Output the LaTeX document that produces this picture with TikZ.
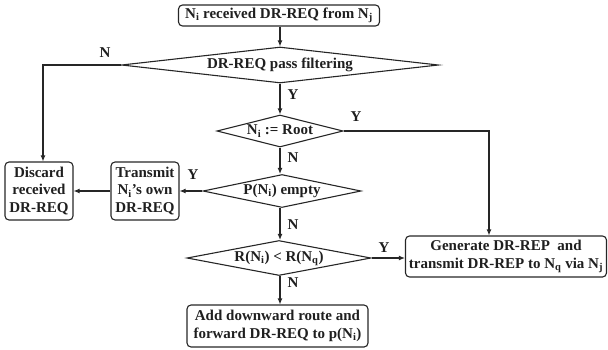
\documentclass[tikz,border=0pt]{standalone}
\usepackage{fontspec}
\setmainfont{Liberation Serif}
\usetikzlibrary{shapes.geometric,arrows.meta}
\begin{document}
\begin{tikzpicture}[x=1pt,y=-1pt,
  every node/.style={font=\fontsize{15}{17.5}\selectfont\bfseries, text=black!88},
  line/.style={draw=black!85, line width=1.1pt},
  arr/.style={line, -{Latex[length=6pt,width=5pt]}},
  box/.style={draw=black!85, line width=1.1pt, rounded corners=4pt, rectangle, align=center, inner sep=1pt},
  dia/.style={draw=black!85, line width=1.1pt, diamond, inner sep=0pt},
  lab/.style={inner sep=0pt}
]
\useasboundingbox (0,0) rectangle (608,349);

\node[box, minimum width=201, minimum height=21] (top) at (279,15.5) {N\textsubscript{i} received DR-REQ from N\textsubscript{j}};
\node[dia, minimum width=317, minimum height=36, label={center:DR-REQ pass filtering}] (d1) at (280,65) {};
\node[dia, minimum width=126, minimum height=32, label={center:N\textsubscript{i} := Root}] (d2) at (280,131) {};
\node[dia, minimum width=158, minimum height=33, label={center:P(N\textsubscript{i}) empty}] (d3) at (282,191) {};
\node[dia, minimum width=184, minimum height=35, label={center:R(N\textsubscript{i}) < R(N\textsubscript{q})}] (d4) at (279,258) {};

\node[box, minimum width=68, minimum height=58] (disc) at (39,191) {Discard\\received\\DR-REQ};
\node[box, minimum width=68, minimum height=58] (trans) at (145,191) {Transmit\\N\textsubscript{i}'s own\\DR-REQ};
\node[box, minimum width=181, minimum height=42] (add) at (277.5,326) {Add downward route and\\forward DR-REQ to p(N\textsubscript{i})};
\node[box, minimum width=201, minimum height=41] (gen) at (506,256.5) {Generate DR-REP\ \ and\\transmit DR-REP to N\textsubscript{q} via N\textsubscript{j}};

\coordinate (c1) at (43,65);
\coordinate (c2) at (489,131);

\draw[arr] (top.south -| 280,0) -- (d1.north -| 280,0);
\draw[arr] (d1.west) -- (c1) -- (c1 |- disc.north);
\draw[arr] (d1.south -| 280,0) -- (d2.north);
\draw[arr] (d2.east) -- (c2) -- (c2 |- gen.north);
\draw[arr] (d2.south) -- (d3.north -| 280,0);
\draw[arr] (d3.west) -- (trans.east);
\draw[arr] (trans.west) -- (disc.east);
\draw[arr] (d3.south -| 280,0) -- (d4.north -| 280,0);
\draw[arr] (d4.east) -- (gen.west |- d4.east);
\draw[arr] (d4.south -| 280,0) -- (add.north -| 280,0);

\node[lab] (lN1) at (105,53) {N};
\node[lab] (lY1) at (293,95) {Y};
\node[lab] (lY2) at (356,117) {Y};
\node[lab] (lN2) at (293,158) {N};
\node[lab] (lY3) at (193,175) {Y};
\node[lab] (lN3) at (293,225) {N};
\node[lab] (lY4) at (384,248) {Y};
\node[lab] (lN4) at (293,283) {N};
\end{tikzpicture}
\end{document}
